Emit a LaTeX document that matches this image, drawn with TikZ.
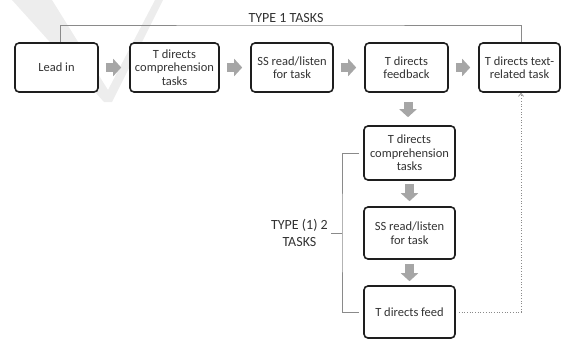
\documentclass[tikz,border=0pt]{standalone}
\usepackage{fontspec}
\setmainfont{Carlito}
\usepackage{tikz}
\usetikzlibrary{arrows.meta}
\definecolor{boxline}{HTML}{1E1E1E}
\definecolor{boxtext}{HTML}{333333}
\definecolor{arrowgray}{HTML}{A6A6A6}
\definecolor{brackgray}{HTML}{8A8A8A}
\tikzset{
  taskbox/.style={draw=boxline,line width=1.6pt,rounded corners=4pt,fill=white,
    text=boxtext,align=center,font=\fontsize{12.5}{13.4}\selectfont,inner sep=0pt},
  blockarr/.style={draw=arrowgray,line width=9pt,-{Triangle[length=8pt,width=17pt]}},
  bracket/.style={draw=brackgray,line width=0.8pt},
  typelabel/.style={text=boxtext,align=center,font=\fontsize{14}{16.5}\selectfont},
  feedlink/.style={draw=brackgray,line width=0.7pt,dotted,-{Straight Barb[length=3pt,width=5pt]}}
}
\begin{document}
\begin{tikzpicture}[x=1pt,y=-1pt]
  \useasboundingbox (0,0) rectangle (561,338);
  % faint watermark
  \fill[black!7] (12,0) -- (52,0) -- (108,90) -- (155,0) -- (163,0) -- (112,102) -- (104,102) -- cycle;
  % type 1 row
  \node[taskbox,minimum width=83pt,minimum height=49pt] (lead) at (56.5,67.5) {Lead in};
  \node[taskbox,minimum width=89pt,minimum height=49pt] (comp) at (174.5,67.5) {T directs\\comprehension\\tasks};
  \node[taskbox,minimum width=82pt,minimum height=49pt] (read) at (292,67.5) {SS read/listen\\for task};
  \node[taskbox,minimum width=83pt,minimum height=49pt] (feed) at (406.5,67.5) {T directs\\feedback};
  \node[taskbox,minimum width=81pt,minimum height=49pt] (txt) at (519.5,67.5) {T directs text-\\related task};
  \draw[blockarr,shorten <=7pt,shorten >=8pt] (lead) -- (comp);
  \draw[blockarr,shorten <=7pt,shorten >=8pt] (comp) -- (read);
  \draw[blockarr,shorten <=7pt,shorten >=8pt] (read) -- (feed);
  \draw[blockarr,shorten <=7pt,shorten >=8pt] (feed) -- (txt);
  % type (1) 2 column
  \node[taskbox,minimum width=91pt,minimum height=54pt] (vcomp) at (409.5,153) {T directs\\comprehension\\tasks};
  \node[taskbox,minimum width=91pt,minimum height=52pt] (vread) at (409.5,233) {SS read/listen\\for task};
  \node[taskbox,minimum width=91pt,minimum height=52pt] (vfeed) at (409.5,312) {T directs feed};
  \draw[blockarr,shorten <=9pt,shorten >=8pt] ([xshift=1.5pt]feed.south) -- ([xshift=-1.5pt]vcomp.north);
  \draw[blockarr,shorten <=3pt,shorten >=5pt] (vcomp) -- (vread);
  \draw[blockarr,shorten <=4pt,shorten >=4pt] (vread) -- (vfeed);
  % brackets
  \coordinate (topbar) at (290,25);
  \draw[bracket] ([xshift=3.5pt]lead.north) |- (topbar) -| ([xshift=1.5pt]txt.north);
  \node[typelabel,anchor=base] (t1) at (286,22) {TYPE 1 TASKS};
  \coordinate (sidebar) at (342,233);
  \draw[bracket] ([xshift=-4pt]vcomp.west) -| (sidebar) |- ([xshift=-4pt]vfeed.west);
  \coordinate (tick) at (331,233);
  \draw[bracket] (sidebar) -- (tick);
  \node[typelabel,anchor=east,inner sep=3pt] (t2) at (tick) {TYPE (1) 2\\TASKS};
  % back to text-related task
  \draw[feedlink] ([xshift=3pt]vfeed.east) -| ([xshift=1.5pt]txt.south);
\end{tikzpicture}
\end{document}
